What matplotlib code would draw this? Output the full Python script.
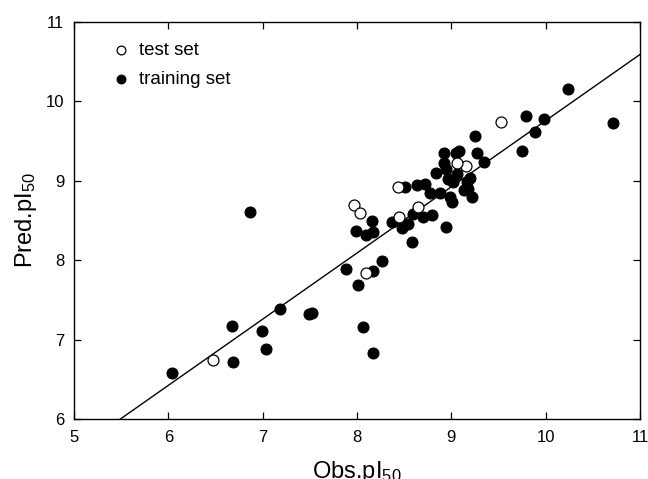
import matplotlib
matplotlib.use("Agg")
import matplotlib.pyplot as plt

plt.rcParams['font.family'] = ['Liberation Sans', 'DejaVu Sans']
plt.rcParams['mathtext.fontset'] = 'custom'
plt.rcParams['mathtext.rm'] = 'Liberation Sans'
plt.rcParams['mathtext.it'] = 'Liberation Sans'

# training set (observed, predicted)
train_obs = [6.04, 6.68, 6.69, 6.87, 6.99, 7.04, 7.18, 7.49, 7.52, 7.88,
             7.99, 8.01, 8.06, 8.09, 8.16, 8.17, 8.17, 8.17, 8.27, 8.37,
             8.48, 8.54, 8.58, 8.59, 8.70, 8.80, 8.51, 8.64, 8.72, 8.77,
             8.88, 8.84, 8.92, 9.05, 9.08, 8.92, 8.94, 8.96, 9.02, 9.06,
             8.99, 9.01, 9.13, 9.18, 9.22, 9.20, 9.17, 9.25, 9.27, 9.35,
             9.75, 9.79, 9.89, 9.98, 10.24, 10.71, 8.94]
train_pred = [6.58, 7.17, 6.72, 8.60, 7.11, 6.88, 7.38, 7.32, 7.34, 7.89,
              8.36, 7.69, 7.16, 8.31, 8.49, 8.35, 7.86, 6.83, 7.99, 8.48,
              8.40, 8.46, 8.23, 8.58, 8.54, 8.57, 8.92, 8.94, 8.96, 8.84,
              8.84, 9.09, 9.35, 9.35, 9.37, 9.22, 9.14, 9.02, 8.98, 9.08,
              8.79, 8.73, 8.88, 8.89, 8.79, 9.03, 8.98, 9.56, 9.35, 9.23,
              9.37, 9.81, 9.61, 9.77, 10.15, 9.72, 8.42]

# test set (observed, predicted)
test_obs = [9.53, 9.15, 9.06, 8.43, 8.65, 8.45, 7.97, 8.03, 8.10, 6.47]
test_pred = [9.74, 9.19, 9.22, 8.92, 8.67, 8.54, 8.69, 8.59, 7.84, 6.74]

# regression line
line_slope = 0.833
line_intercept = 1.425

x_ticks = [5, 6, 7, 8, 9, 10, 11]
y_ticks = [6, 7, 8, 9, 10, 11]

fig = plt.figure(figsize=(6.48, 4.79), dpi=100)
ax = fig.add_axes([0.1142, 0.1253, 0.8735, 0.8294])

ax.axline((0, line_intercept), slope=line_slope, color='black', lw=1.0, zorder=1)
ax.scatter(train_obs, train_pred, s=62, c='black', edgecolors='black',
           linewidths=0.8, zorder=2, label='training set')
ax.scatter(test_obs, test_pred, s=62, c='white', edgecolors='black',
           linewidths=0.9, zorder=3, label='test set')

ax.set_xlim(5, 11)
ax.set_ylim(6, 11)
ax.set_xticks(x_ticks)
ax.set_yticks(y_ticks)
ax.tick_params(direction='in', length=5, width=0.9, top=True, right=True,
               labelsize=12)
ax.tick_params(axis='x', pad=8)
ax.tick_params(axis='y', pad=7)
for sp in ax.spines.values():
    sp.set_linewidth(1.0)

ax.set_xlabel(r'Obs.pI$_{50}$', fontsize=17, labelpad=10)
ax.set_ylabel(r'Pred.pI$_{50}$', fontsize=17, labelpad=5)

handles, labels = ax.get_legend_handles_labels()
leg = ax.legend(handles[::-1], labels[::-1], loc='upper left',
                bbox_to_anchor=(0.05, 0.968), frameon=False, fontsize=13.5,
                handletextpad=0.35, labelspacing=0.62, markerscale=0.8,
                borderaxespad=0.0, handlelength=1.2)

fig.savefig('out.png', dpi=100)
